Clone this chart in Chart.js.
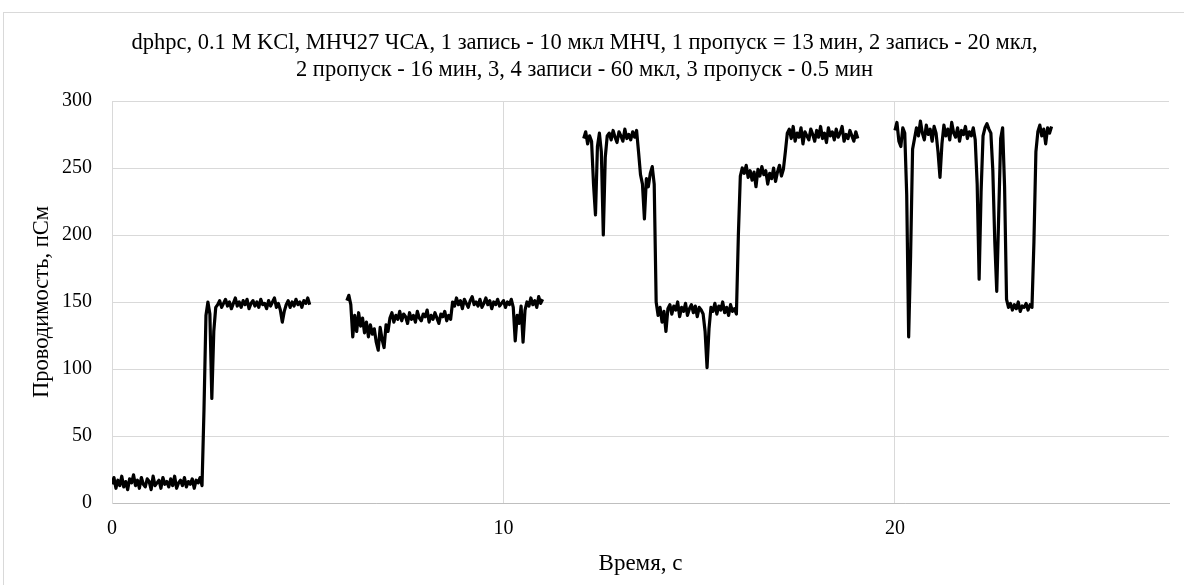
<!DOCTYPE html>
<html>
<head>
<meta charset="utf-8">
<script src="https://cdn.jsdelivr.net/npm/chart.js@4.4.1/dist/chart.umd.min.js"></script>
<style>
  html, body { margin: 0; padding: 0; background: #ffffff; }
  #wrap { width: 1184px; height: 585px; position: relative; }
</style>
</head>
<body>
<div id="wrap"><canvas id="c" width="1184" height="585"></canvas></div>
<script>
// ---- data ----
const titleLines = [
  "dphpc, 0.1 M KCl, МНЧ27 ЧСА, 1 запись - 10 мкл МНЧ, 1 пропуск = 13 мин, 2 запись - 20 мкл,",
  "2 пропуск - 16 мин, 3, 4 записи - 60 мкл, 3 пропуск - 0.5 мин"
];
const xTitle = "Время, с";
const yTitle = "Проводимость, пСм";
const xTicks = [0, 10, 20];
const yTicks = [0, 50, 100, 150, 200, 250, 300];
const sampleStep = 0.05; // s between samples

// recording 1: starts at 0.00 s
const rec1Start = 0.00;
const rec1 = [14,19,11,17,13,20,12,16,10,18,
15,21,13,17,11,19,14,12,18,16,
10,20,13,15,17,11,19,14,16,12,
18,13,20,11,15,17,13,19,12,16,
14,18,11,17,15,19,13,
70,140,150,141,78,128,146,
148,151,146,149,152,147,150,145,149,153,
147,150,146,151,148,152,145,149,151,147,
150,146,152,148,149,145,151,147,150,153,
146,149,144,135,143,148,151,146,150,147,
152,148,150,146,151,149,153,148];

// recording 2: starts at 6.00 s
const rec2Start = 6.00;
const rec2 = [151,155,148,124,
140,128,142,132,138,127,135,124,133,126,130,120,114,131,122,116,133,128,
138,142,135,140,137,143,136,141,139,134,
142,137,140,135,143,138,136,141,139,144,
135,140,137,142,138,134,141,139,143,136,
140,137,
150,147,153,148,151,145,152,149,146,151,
154,148,150,147,152,146,149,153,148,151,
145,150,148,152,147,149,151,146,150,148,
152,146,
121,140,134,147,120,144,
150,147,153,148,151,146,154,149,152];

// recording 3: starts at 12.05 s
const rec3Start = 12.05;
const rec3 = [272,277,268,274,270,238,215,266,276,262,200,258,274,
276,271,278,273,269,277,274,270,279,272,275,271,277,273,278,
262,245,238,212,242,236,246,251,238,150,140,146,135,143,128,145,
148,141,147,144,150,139,146,143,149,140,145,148,142,147,139,146,144,141,
128,101,130,146,
143,149,141,147,144,150,142,146,140,148,143,145,141,
200,244,
250,246,252,243,248,241,247,236,249,244,251,245,248,238,246,242,250,240,247,252,244,249,
262,276,
279,272,281,270,276,273,280,268,277,274,271,279,275,270,278,273,281,272,276,269,
280,274,277,271,279,273,276,281,270,275,272,278,274,270,277,272];

// recording 4: starts at 20.00 s
const rec4Start = 20.00;
const rec4 = [278,284,270,266,280,276,230,124,185,264,272,
280,274,285,276,271,282,275,279,270,281,276,
262,243,268,
282,274,279,271,284,276,273,280,270,278,275,281,272,277,274,280,271,
238,167,232,274,280,283,279,276,248,195,158,215,272,280,236,152,
146,149,144,148,145,150,143,147,146,149,144,148,146,
195,262,277,
282,274,279,268,280,276,281];

const recordings = [[rec1Start, rec1], [rec2Start, rec2], [rec3Start, rec3], [rec4Start, rec4]];

// ---- build chart ----
const FONT = "'Liberation Serif', 'Times New Roman', serif";
const datasets = recordings.map(([start, vals], k) => ({
  label: 'Запись ' + (k + 1),
  data: vals.map((v, i) => ({ x: +(start + i * sampleStep).toFixed(3), y: v })),
  borderColor: '#000000',
  borderWidth: 3.2,
  borderJoinStyle: 'round',
  pointRadius: 0,
  tension: 0,
  fill: false
}));

const borderPlugin = {
  id: 'outerBorder',
  beforeDraw(chart) {
    const ctx = chart.ctx;
    ctx.save();
    ctx.fillStyle = '#ffffff';
    ctx.fillRect(0, 0, chart.width, chart.height);
    ctx.strokeStyle = '#d9d9d9';
    ctx.lineWidth = 1;
    ctx.strokeRect(3.5, 12.5, 1300, 700);
    ctx.restore();
  }
};

new Chart(document.getElementById('c'), {
  type: 'line',
  data: { datasets },
  plugins: [borderPlugin],
  options: {
    responsive: false,
    animation: false,
    layout: { padding: { left: 0, right: 15, top: 0, bottom: 0 } },
    plugins: {
      legend: { display: false },
      tooltip: { enabled: false },
      title: {
        display: true,
        text: titleLines,
        color: '#000000',
        font: { family: FONT, size: 22.5, weight: 'normal', lineHeight: 1.2 },
        padding: { top: 30, bottom: 17 }
      }
    },
    scales: {
      x: {
        type: 'linear',
        min: 0,
        max: 27,
        afterFit(scale) { scale.height = 82; },
        afterBuildTicks(scale) { scale.ticks = xTicks.map(v => ({ value: v })); },
        ticks: { color: '#000000', font: { family: FONT, size: 20 }, padding: 14, maxRotation: 0 },
        grid: { color: '#d9d9d9', drawTicks: false },
        border: { color: '#bfbfbf', width: 1 },
        title: {
          display: true, text: xTitle, color: '#000000',
          font: { family: FONT, size: 23, lineHeight: 1.2 },
          padding: { top: 0, bottom: 7 }
        }
      },
      y: {
        min: 0,
        max: 300,
        afterFit(scale) { scale.width = 112; },
        afterBuildTicks(scale) { scale.ticks = yTicks.map(v => ({ value: v })); },
        ticks: { color: '#000000', font: { family: FONT, size: 20 }, padding: 20 },
        grid: { color: '#d9d9d9', drawTicks: false },
        border: { color: '#d9d9d9', width: 1 },
        title: {
          display: true, text: yTitle, color: '#000000',
          font: { family: FONT, size: 22.5, lineHeight: 1.2 },
          padding: { top: 29, bottom: 0 }
        }
      }
    }
  }
});
</script>
</body>
</html>
